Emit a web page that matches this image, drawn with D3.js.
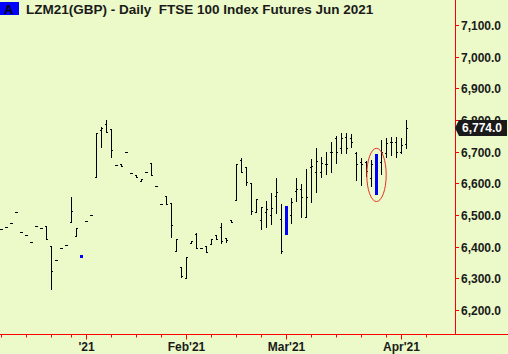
<!DOCTYPE html>
<html><head><meta charset="utf-8">
<script src="https://cdn.jsdelivr.net/npm/d3@7"></script>
<style>
html,body{margin:0;padding:0;background:#ebfac8;}
svg{display:block;}
text{font-family:"Liberation Sans",Arial,sans-serif;font-weight:bold;font-size:12px;}
</style>
</head><body>
<svg id="chart" width="508" height="354"></svg>
<script>
// ---- data ----
const dates = [
 "2020-12-07","2020-12-08","2020-12-09","2020-12-10","2020-12-11",
 "2020-12-14","2020-12-15","2020-12-16","2020-12-17","2020-12-18",
 "2020-12-21","2020-12-22","2020-12-23","2020-12-24",
 "2020-12-29","2020-12-30","2020-12-31",
 "2021-01-04","2021-01-05","2021-01-06","2021-01-07","2021-01-08",
 "2021-01-11","2021-01-12","2021-01-13","2021-01-14","2021-01-15",
 "2021-01-18","2021-01-19","2021-01-20","2021-01-21","2021-01-22",
 "2021-01-25","2021-01-26","2021-01-27","2021-01-28","2021-01-29",
 "2021-02-01","2021-02-02","2021-02-03","2021-02-04","2021-02-05",
 "2021-02-08","2021-02-09","2021-02-10","2021-02-11","2021-02-12",
 "2021-02-15","2021-02-16","2021-02-17","2021-02-18","2021-02-19",
 "2021-02-22","2021-02-23","2021-02-24","2021-02-25","2021-02-26",
 "2021-03-01","2021-03-02","2021-03-03","2021-03-04","2021-03-05",
 "2021-03-08","2021-03-09","2021-03-10","2021-03-11","2021-03-12",
 "2021-03-15","2021-03-16","2021-03-17","2021-03-18","2021-03-19",
 "2021-03-22","2021-03-23","2021-03-24","2021-03-25","2021-03-26",
 "2021-03-29","2021-03-30","2021-03-31","2021-04-01","2021-04-06"
];
const openV = [
 6455,6461,6474,6509,6445, 6436,6414,6465,6458,6465,
 6402,6357,6395,6404, 6477,6433,6370,
 6480,6500,6619,6770,6787, 6771,6659,6660,6699,6634,
 6625,6608,6636,6665,6591, 6534,6561,6539,6385,6335,
 6300,6412,6440,6396,6402, 6409,6437,6462,6426,6484,
 6547,6675,6652,6600,6510, 6484,6510,6500,6560,6486,
 6525,6500,6577,6583,6495, 6651,6637,6637,6660,6700,
 6742,6711,6745,6742,6695, 6668,6668,6616,6690,6668,
 6697,6732,6732,6700,6725
];
const highV = [
 6455,6461,6474,6509,6445, 6436,6414,6465,6458,6465,
 6402,6357,6395,6404, 6556,6458,6370,
 6480,6500,6758,6777,6800, 6771,6659,6660,6699,6634,
 6625,6615,6636,6665,6591, 6534,6561,6539,6423,6337,
 6366,6418,6442,6396,6402, 6425,6437,6474,6426,6484,
 6661,6679,6653,6600,6550, 6526,6544,6570,6616,6534,
 6525,6553,6616,6598,6644, 6676,6711,6684,6700,6731,
 6750,6758,6758,6756,6700, 6679,6671,6674,6690,6737,
 6742,6745,6747,6742,6800
];
const lowV = [
 6455,6461,6474,6509,6445, 6436,6414,6465,6458,6423,
 6267,6357,6395,6404, 6477,6433,6370,
 6480,6500,6619,6714,6763, 6684,6659,6654,6699,6634,
 6619,6608,6636,6626,6591, 6534,6534,6430,6385,6305,
 6300,6412,6397,6396,6382, 6409,6425,6411,6414,6478,
 6547,6637,6595,6503,6510, 6457,6461,6472,6505,6381,
 6438,6474,6545,6495,6493, 6542,6574,6621,6630,6637,
 6665,6697,6697,6714,6611, 6595,6623,6592,6563,6630,
 6684,6690,6684,6695,6711
];
const closeV = [
 6455,6461,6474,6509,6445, 6436,6414,6465,6458,6423,
 6323,6357,6395,6404, 6513,6458,6370,
 6480,6500,6758,6775,6763, 6705,6659,6654,6699,6634,
 6620,6614,6636,6626,6591, 6534,6536,6468,6423,6308,
 6366,6418,6397,6396,6382, 6425,6425,6418,6420,6478,
 6661,6637,6603,6513,6550, 6526,6520,6522,6572,6386,
 6438,6540,6582,6556,6556, 6655,6671,6665,6662,6700,
 6700,6742,6711,6730,6660, 6660,6640,6660,6563,6700,
 6728,6732,6700,6720,6774
];
const highlighted = [16, 57, 75];          // bars drawn in blue
const circledBar = 75;                     // bar with red ellipse
const lastPrice = 6774.0;
const yTicks = [6200,6300,6400,6500,6600,6700,6800,6900,7000,7100];
const majorTicks = [{i:17,label:"'21"},{i:37,label:"Feb'21"},{i:57,label:"Mar'21"},{i:80,label:"Apr'21"}];
const minorTicks = [0,5,10,14,22,27,32,42,47,52,62,67,72,77,85];
const titleText = "LZM21(GBP) - Daily  FTSE 100 Index Futures Jun 2021";

// ---- drawing ----
const W = 508, H = 354;
const axisX = 455, axisY = 334;
const svg = d3.select("#chart");
const x = d3.scaleLinear().domain([0, 90]).range([1.5, 451.5]);
const y = d3.scaleLinear().domain([6200, 7100]).range([310, 25]);
const fmt = d3.format(",.1f");
const barColor = "#000";
const blue = "#0000ff";
const red = "#ff0000";

const bars = svg.append("g");
dates.forEach((d, i) => {
  const cx = Math.floor(x(i));
  const yh = Math.round(y(highV[i])), yl = Math.round(y(lowV[i]));
  if (highlighted.includes(i)) {
    bars.append("rect").attr("x", cx - 1).attr("y", yh - 1)
      .attr("width", 3).attr("height", Math.max(3, yl - yh + 1)).attr("fill", blue);
    return;
  }
  bars.append("rect").attr("x", cx).attr("y", yh).attr("width", 1)
    .attr("height", Math.max(1, yl - yh + 1)).attr("fill", barColor);
  bars.append("rect").attr("x", cx - 1).attr("y", Math.round(y(openV[i])))
    .attr("width", 1).attr("height", 1).attr("fill", barColor);
  bars.append("rect").attr("x", cx + 1).attr("y", Math.round(y(closeV[i])))
    .attr("width", 1).attr("height", 1).attr("fill", barColor);
});

// ellipse around circled bar
{
  const i = circledBar;
  const yh = y(highV[i]), yl = y(lowV[i]);
  svg.append("ellipse").attr("cx", x(i)).attr("cy", (yh + yl) / 2)
    .attr("rx", 9.7).attr("ry", (yl - yh) / 2 + 6.5)
    .attr("fill", "none").attr("stroke", "#e8302a").attr("stroke-width", 1);
}

// axes lines
svg.append("line").attr("x1", axisX + 0.5).attr("x2", axisX + 0.5).attr("y1", 0).attr("y2", axisY)
  .attr("stroke", red).attr("stroke-width", 1);
svg.append("line").attr("x1", 0).attr("x2", W).attr("y1", axisY + 0.5).attr("y2", axisY + 0.5)
  .attr("stroke", red).attr("stroke-width", 1);

// y axis ticks + labels
const ya = svg.append("g");
yTicks.forEach(v => {
  const yy = Math.round(y(v)) + 0.5;
  ya.append("line").attr("x1", axisX).attr("x2", axisX + 4).attr("y1", yy).attr("y2", yy)
    .attr("stroke", red);
  ya.append("text").attr("x", axisX + 6).attr("y", yy).attr("dy", "0.36em")
    .attr("fill", "#1a1a1a").text(fmt(v));
});

// x axis ticks
const xa = svg.append("g");
minorTicks.forEach(i => {
  const xx = Math.floor(x(i)) + 0.5;
  xa.append("line").attr("x1", xx).attr("x2", xx).attr("y1", axisY).attr("y2", axisY + 3.5).attr("stroke", red);
});
majorTicks.forEach(t => {
  const xx = Math.floor(x(t.i)) + 0.5;
  xa.append("line").attr("x1", xx).attr("x2", xx).attr("y1", axisY).attr("y2", axisY + 5.5).attr("stroke", red);
  xa.append("text").attr("x", xx).attr("y", 351).attr("text-anchor", "middle")
    .attr("fill", "#1a1a1a").text(t.label);
});

// last price marker
{
  const yy = Math.round(y(lastPrice));
  svg.append("path")
    .attr("d", `M${axisX},${yy} L${axisX + 4},${yy - 8} L${W - 1},${yy - 8} L${W - 1},${yy + 8} L${axisX + 4},${yy + 8} Z`)
    .attr("fill", "#1a1a1a");
  svg.append("text").attr("x", axisX + 7).attr("y", yy).attr("dy", "0.36em")
    .attr("fill", "#ffffff").text(fmt(lastPrice));
}

// title
svg.append("rect").attr("x", 0).attr("y", 2).attr("width", 19).attr("height", 13).attr("fill", blue);
svg.append("text").attr("x", 4).attr("y", 13.5).attr("fill", "#000").style("font-size", "13px").text("A");
svg.append("text").attr("x", 26).attr("y", 13.5).attr("fill", "#1a1a1a")
  .style("font-size", "13.5px").style("white-space", "pre").text(titleText);
</script>
</body></html>
